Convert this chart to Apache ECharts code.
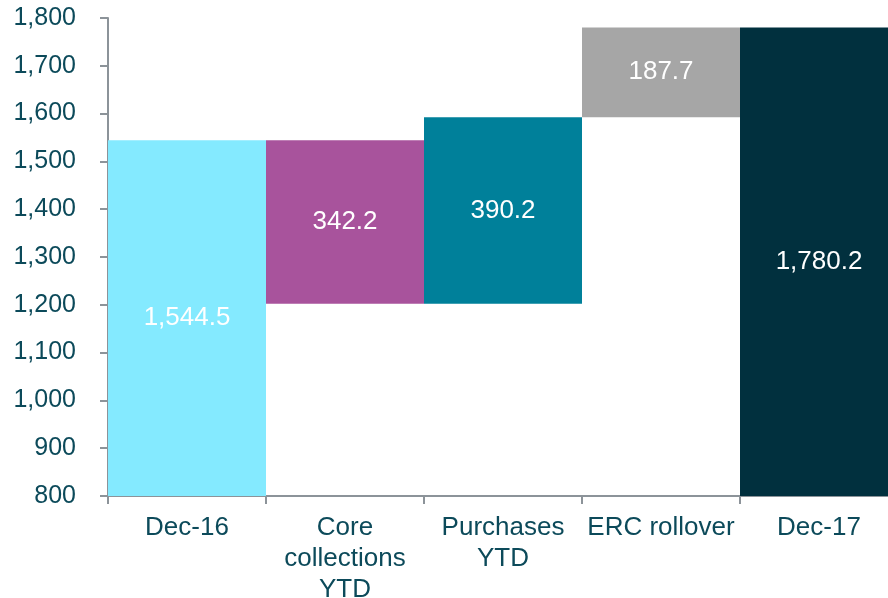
<!DOCTYPE html>
<html>
<head>
<meta charset="utf-8">
<script src="https://cdn.jsdelivr.net/npm/echarts@6/dist/echarts.min.js"></script>
<style>
html,body{margin:0;padding:0;background:#fff;}
#chart{width:888px;height:598px;}
</style>
</head>
<body>
<div id="chart"></div>
<script>
// Data
const categories = ['Dec-16', 'Core\ncollections\nYTD', 'Purchases\nYTD', 'ERC rollover', 'Dec-17'];
const amounts = [1544.5, -342.2, 390.2, 187.7, 1780.2];
const isTotal = [true, false, false, false, true];
const yTicks = { min: 800, max: 1800, interval: 100 };
const barColors = ['#84EAFF', '#A8539C', '#00809A', '#A6A6A6', '#01303E'];

// Build waterfall base/top from data
const baseVals = [];
const barVals = [];
let running = 0;
amounts.forEach((a, i) => {
  if (isTotal[i]) {
    baseVals.push(yTicks.min);
    barVals.push(a - yTicks.min);
    running = a;
  } else {
    const lo = a < 0 ? running + a : running;
    baseVals.push(lo);
    barVals.push(Math.abs(a));
    running += a;
  }
});

const fmt = v => v.toLocaleString('en-US', { minimumFractionDigits: 1, maximumFractionDigits: 1 });
const textColor = '#0C4A5A';
const axisColor = '#8C9399';
const font = '"Liberation Sans", Arial, sans-serif';

const chart = echarts.init(document.getElementById('chart'), null, { renderer: 'canvas' });
chart.setOption({
  animation: false,
  grid: { left: 108, top: 18, width: 790, height: 478, containLabel: false, outerBoundsMode: 'none' },
  xAxis: {
    type: 'category',
    data: categories,
    axisLine: { show: true, lineStyle: { color: axisColor, width: 2 } },
    axisTick: { show: true, length: 8, lineStyle: { color: axisColor, width: 2 } },
    axisLabel: { interval: 0, color: textColor, fontSize: 26, fontFamily: font, margin: 16, lineHeight: 31 }
  },
  yAxis: {
    type: 'value',
    min: yTicks.min, max: yTicks.max, interval: yTicks.interval,
    splitLine: { show: false },
    axisLine: { show: true, lineStyle: { color: axisColor, width: 2 } },
    axisTick: { show: true, length: 8, lineStyle: { color: axisColor, width: 2 } },
    axisLabel: { color: textColor, fontSize: 25, fontFamily: font, margin: 32,
      formatter: v => v.toLocaleString('en-US') }
  },
  series: [
    {
      type: 'bar', stack: 'wf', data: baseVals, barWidth: '100%',
      itemStyle: { color: 'transparent' }, silent: true
    },
    {
      type: 'bar', stack: 'wf', barWidth: '100%',
      data: barVals.map((v, i) => ({ value: v, itemStyle: { color: barColors[i] } })),
      label: {
        show: true, position: 'inside', color: '#fff', fontSize: 26, fontFamily: font,
        formatter: p => fmt(Math.abs(amounts[p.dataIndex]))
      }
    }
  ]
});
</script>
</body>
</html>
